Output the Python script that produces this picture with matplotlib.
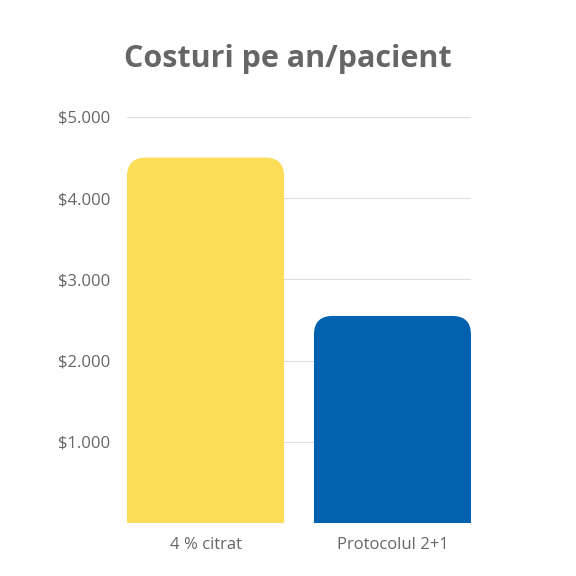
import matplotlib
matplotlib.use("Agg")
import matplotlib.pyplot as plt
from matplotlib.patches import FancyBboxPatch

categories = ["4 % citrat", "Protocolul 2+1"]
values = [4500, 2550]
colors = ["#FDDC58", "#0061AF"]
yticks = [1000, 2000, 3000, 4000, 5000]
ylabels = ["$1.000", "$2.000", "$3.000", "$4.000", "$5.000"]

plt.rcParams['font.family'] = ['Open Sans', 'DejaVu Sans']
fig = plt.figure(figsize=(5.76, 5.76), dpi=100)
ax = fig.add_axes([127/576, 1-523/576, 344/576, 406/576])
ax.set_xlim(-0.42, 1.42)
ax.set_ylim(0, 5000)
w = 0.84
for i, (v, c) in enumerate(zip(values, colors)):
    p = FancyBboxPatch((i - w/2, -600), w, v + 600,
                       boxstyle="round,pad=0,rounding_size=0.1",
                       mutation_aspect=2300, fc=c, ec="none", zorder=3)
    ax.add_patch(p)
ax.set_yticks(yticks)
ax.set_yticklabels(ylabels)
ax.set_xticks(range(len(categories)))
ax.set_xticklabels(categories)
ax.grid(axis='y', color='#dddddd', lw=0.8, zorder=0)
for s in ax.spines.values():
    s.set_visible(False)
ax.tick_params(length=0, labelsize=12, colors='#666666', pad=12)
ax.tick_params(axis='x', pad=10)
fig.text(0.5, 0.898, "Costuri pe an/pacient", ha='center', va='center',
         fontsize=22, fontweight='bold', color='#666666')
fig.savefig("out.png", dpi=100)
